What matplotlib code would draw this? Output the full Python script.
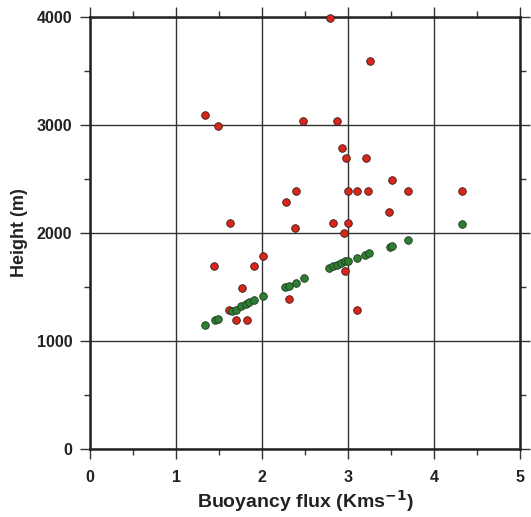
import matplotlib
matplotlib.use("Agg")
import matplotlib.pyplot as plt
from matplotlib.ticker import MultipleLocator

plt.rcParams["font.family"] = ["Liberation Sans", "DejaVu Sans"]
plt.rcParams["font.weight"] = "bold"

# plume height vs buoyancy flux: observed (red) and modelled (green)
obs_flux = [1.33, 1.49, 2.48, 2.40, 2.28, 1.63, 2.38, 2.79, 3.26, 2.87, 2.93,
            2.98, 3.21, 3.51, 3.00, 3.11, 3.23, 3.70, 4.33, 3.48, 2.83, 3.00,
            2.95, 2.97, 3.10, 2.01, 1.44, 1.91, 1.77, 2.31, 1.62, 1.70, 1.83]
obs_height = [3090, 2990, 3040, 2390, 2290, 2090, 2045, 3990, 3590, 3040, 2790,
              2690, 2690, 2490, 2390, 2390, 2390, 2390, 2390, 2190, 2090, 2090,
              2000, 1650, 1290, 1790, 1690, 1690, 1490, 1390, 1290, 1190, 1190]

mod_flux = [1.34, 1.45, 1.49, 1.65, 1.70, 1.76, 1.81, 1.85, 1.91, 2.01, 2.27,
            2.31, 2.40, 2.49, 2.78, 2.83, 2.87, 2.92, 2.96, 3.00, 3.10, 3.20,
            3.25, 3.49, 3.51, 3.70, 4.33]
mod_height = [1145, 1190, 1205, 1275, 1290, 1320, 1340, 1360, 1380, 1420, 1500,
              1510, 1540, 1580, 1676, 1694, 1706, 1725, 1737, 1744, 1771, 1793,
              1810, 1873, 1875, 1932, 2080]

fig = plt.figure(figsize=(5.31, 5.17), dpi=100)
ax = fig.add_axes([0.17, 0.1315, 0.809, 0.836])

ax.scatter(obs_flux, obs_height, s=30, c="#d8261c", edgecolors="#3a1a14",
           linewidths=0.6, zorder=3, clip_on=False)
ax.scatter(mod_flux, mod_height, s=30, c="#2f7d34", edgecolors="#1c3a1c",
           linewidths=0.6, zorder=4, clip_on=False)

ax.set_xlim(0, 5)
ax.set_ylim(0, 4000)
ax.xaxis.set_major_locator(MultipleLocator(1))
ax.xaxis.set_minor_locator(MultipleLocator(0.5))
ax.yaxis.set_major_locator(MultipleLocator(1000))
ax.yaxis.set_minor_locator(MultipleLocator(500))
ax.grid(True, which="major", color="#333333", linewidth=1.0, zorder=1)
ax.set_axisbelow(True)

for sp in ax.spines.values():
    sp.set_linewidth(1.8)
    sp.set_color("#222222")

ax.tick_params(which="both", direction="out", top=True, right=True,
               color="#333333", width=1.0)
ax.tick_params(which="major", length=7, labelsize=11.5)
ax.tick_params(which="minor", length=4)
ax.tick_params(axis="x", which="major", pad=8)
ax.tick_params(axis="y", which="major", pad=6)
for lab in ax.get_xticklabels() + ax.get_yticklabels():
    lab.set_fontweight("bold")
    lab.set_color("#222222")

ax.set_xlabel("Buoyancy flux (Kms$^{\\mathbf{-1}}$)", fontsize=14,
              fontweight="bold", color="#222222", labelpad=2)
ax.set_ylabel("Height (m)", fontsize=13, fontweight="bold",
              color="#222222", labelpad=6)

fig.savefig("out.png", dpi=100)
